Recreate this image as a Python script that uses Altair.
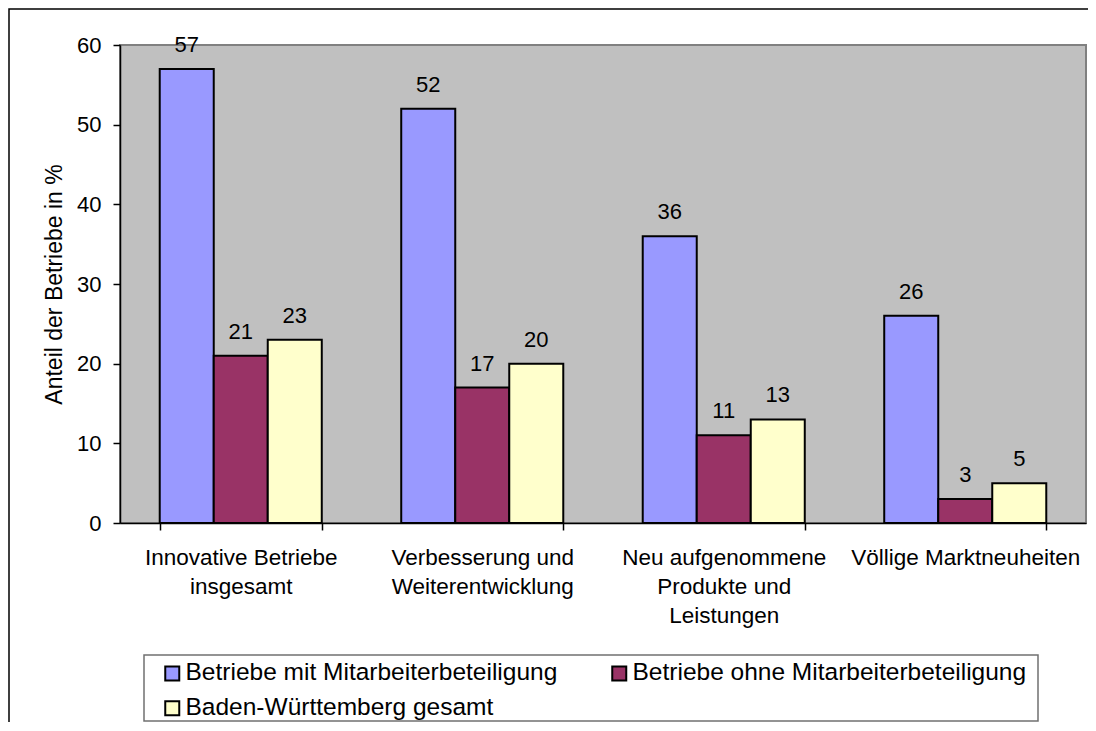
import altair as alt
import pandas as pd

categories = [
    "Innovative Betriebe\ninsgesamt",
    "Verbesserung und\nWeiterentwicklung",
    "Neu aufgenommene\nProdukte und\nLeistungen",
    "Völlige Marktneuheiten",
]
series = [
    "Betriebe mit Mitarbeiterbeteiligung",
    "Betriebe ohne Mitarbeiterbeteiligung",
    "Baden-Württemberg gesamt",
]
mit_values = [57, 52, 36, 26]
ohne_values = [21, 17, 11, 3]
bw_values = [23, 20, 13, 5]
colors = ["#9999FF", "#993366", "#FFFFCC"]
y_ticks = [0, 10, 20, 30, 40, 50, 60]

rows = []
for s, vals in zip(series, [mit_values, ohne_values, bw_values]):
    for c, v in zip(categories, vals):
        rows.append({"Kategorie": c, "Reihe": s, "Wert": v})
df = pd.DataFrame(rows)

FONT = "Liberation Sans"

x_enc = alt.X(
    "Kategorie:N",
    sort=categories,
    scale=alt.Scale(paddingInner=0.329, paddingOuter=0.1645),
    axis=alt.Axis(
        title=None,
        labelAngle=0,
        labelExpr="split(datum.label, '\\n')",
        labelFontSize=22.5,
        labelLineHeight=29,
        labelBaseline="top",
        labelPadding=16,
        labelColor="black",
        labelFont=FONT,
        tickBand="extent",
        tickSize=7,
        tickColor="black",
        tickWidth=1.5,
        domainColor="black",
        domainWidth=1.5,
        labelLimit=400,
    ),
)
xoff = alt.XOffset("Reihe:N", sort=series, scale=alt.Scale(paddingInner=0, paddingOuter=0))
y_enc = alt.Y(
    "Wert:Q",
    scale=alt.Scale(domain=[0, 60], nice=False),
    axis=alt.Axis(
        title="Anteil der Betriebe in %",
        values=y_ticks,
        grid=False,
        labelFontSize=22,
        labelColor="black",
        labelFont=FONT,
        labelPadding=12,
        tickSize=7,
        tickColor="black",
        tickWidth=1.5,
        domainColor="black",
        domainWidth=1.5,
        titleFontSize=23,
        titleFont=FONT,
        titleFontWeight="normal",
        titleColor="black",
        titleX=-66,
        titleY=239,
        titleAlign="center",
        titleBaseline="middle",
        titleAngle=270,
    ),
)

bars = alt.Chart(df).mark_bar(stroke="black", strokeWidth=2).encode(
    x=x_enc,
    xOffset=xoff,
    y=y_enc,
    color=alt.Color(
        "Reihe:N",
        sort=series,
        scale=alt.Scale(domain=series, range=colors),
        legend=alt.Legend(
            title=None,
            orient="none",
            direction="horizontal",
            legendX=40,
            legendY=616,
            columns=2,
            columnPadding=49,
            rowPadding=10,
            padding=0,
            symbolType="square",
            symbolSize=196,
            symbolStrokeColor="black",
            symbolStrokeWidth=2,
            symbolOpacity=1,
            labelFontSize=24.5,
            labelFont=FONT,
            labelColor="black",
            labelOffset=1,
            labelLimit=0,
        ),
    ),
)

labels = alt.Chart(df).mark_text(
    fontSize=22, font=FONT, color="black", baseline="alphabetic", dy=-17
).encode(
    x=alt.X("Kategorie:N", sort=categories),
    xOffset=alt.XOffset("Reihe:N", sort=series),
    y="Wert:Q",
    text="Wert:Q",
)

one = pd.DataFrame({"a": [0]})
frame = alt.Chart(one).mark_rect(fill="transparent", stroke="black", strokeWidth=1.5).encode(
    x=alt.value(-111), x2=alt.value(3000), y=alt.value(-36), y2=alt.value(3000)
)
legend_box = alt.Chart(one).mark_rect(fill="white", stroke="#707070", strokeWidth=1.5).encode(
    x=alt.value(24), x2=alt.value(918), y=alt.value(610), y2=alt.value(676)
)

chart = (
    alt.layer(frame, legend_box, bars, labels)
    .properties(
        width=966,
        height=478,
        padding={"left": 112, "top": 37, "right": 2, "bottom": 199},
        autosize=alt.AutoSizeParams(type="none"),
        background="white",
    )
    .configure_view(fill="#C0C0C0", stroke="#808080", strokeWidth=2)
)

chart.save("out.html", embed_options={"renderer": "svg", "actions": False})
